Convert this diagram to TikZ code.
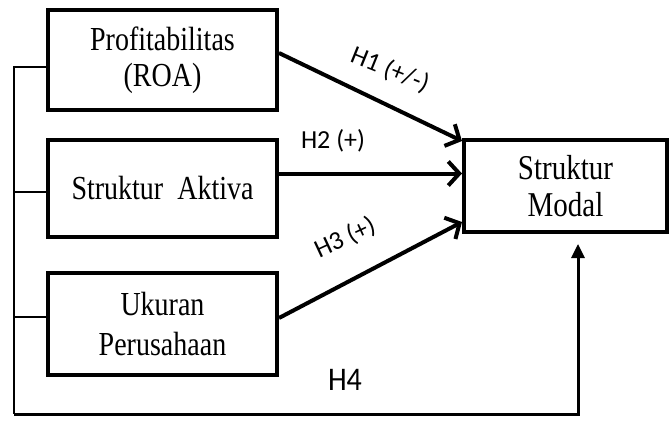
\documentclass[tikz,border=0pt]{standalone}
\usepackage{graphicx}
\usepackage{fontspec}
\setmainfont{Liberation Serif}
\newfontfamily\labelfont{Carlito}
\usetikzlibrary{arrows.meta}

\newcommand{\tall}[1]{\scalebox{1}[1.2]{#1}}

\begin{document}
\begin{tikzpicture}[x=1pt, y=-1pt,
  varbox/.style={rectangle, draw=black, line width=4pt, fill=white, align=center, inner sep=0pt, minimum width=229pt, font=\fontsize{28}{36}\selectfont},
  hyp/.style={line width=4pt, -{Straight Barb[length=11pt, width=24pt]}},
  spine/.style={line width=2.5pt},
  hlabel/.style={inner sep=0pt, font=\labelfont\fontsize{26}{26}\selectfont}]
\useasboundingbox (0,0) rectangle (669,421);

% variabel
\node[varbox, minimum height=100pt] (roa) at (162.5,60) {\tall{Profitabilitas}\\\tall{(ROA)}};
\node[varbox, minimum height=97pt] (aktiva) at (162.5,188.5) {\tall{Struktur~~Aktiva}};
\node[varbox, minimum height=102pt, font=\fontsize{28}{40}\selectfont] (ukuran) at (162.5,324) {\tall{Ukuran}\\\tall{Perusahaan}};
\node[varbox, minimum width=203pt, minimum height=92pt, font=\fontsize{29}{37}\selectfont] (modal) at (565.5,186) {\tall{Struktur}\\\tall{Modal}};

% hipotesis
\draw[hyp] ([yshift=7pt]roa.east) -- ([yshift=-3pt]modal.north west);
\draw[hyp] ([yshift=15pt]aktiva.east) -- ([yshift=15pt]aktiva.east -| modal.west);
\draw[hyp] ([yshift=6pt]ukuran.east) -- ([yshift=12pt]modal.south west);

\node[hlabel, rotate=-22] (h1) at (390,70) {H1 (+/-)};
\node[hlabel] (h2) at (333,141) {H2 (+)};
\node[hlabel, rotate=25] (h3) at (345,238) {H3 (+)};

% H4 bersama-sama
\coordinate (corner) at (14,414);
\draw[spine] ([yshift=-7pt]roa.west) -| (corner);
\draw[spine] ([yshift=-3.5pt]aktiva.west) -- ++(-33,0);
\draw[spine] ([yshift=7pt]ukuran.west) -- ++(-33,0);
\draw[spine, line width=3pt, -{Triangle[length=14pt, width=13pt]}] (corner) -| ([xshift=12.5pt, yshift=-10pt]modal.south);
\node[hlabel, font=\labelfont\fontsize{30}{30}\selectfont] (h4) at (345,380) {\scalebox{1}[1.1]{H4}};
\end{tikzpicture}
\end{document}
